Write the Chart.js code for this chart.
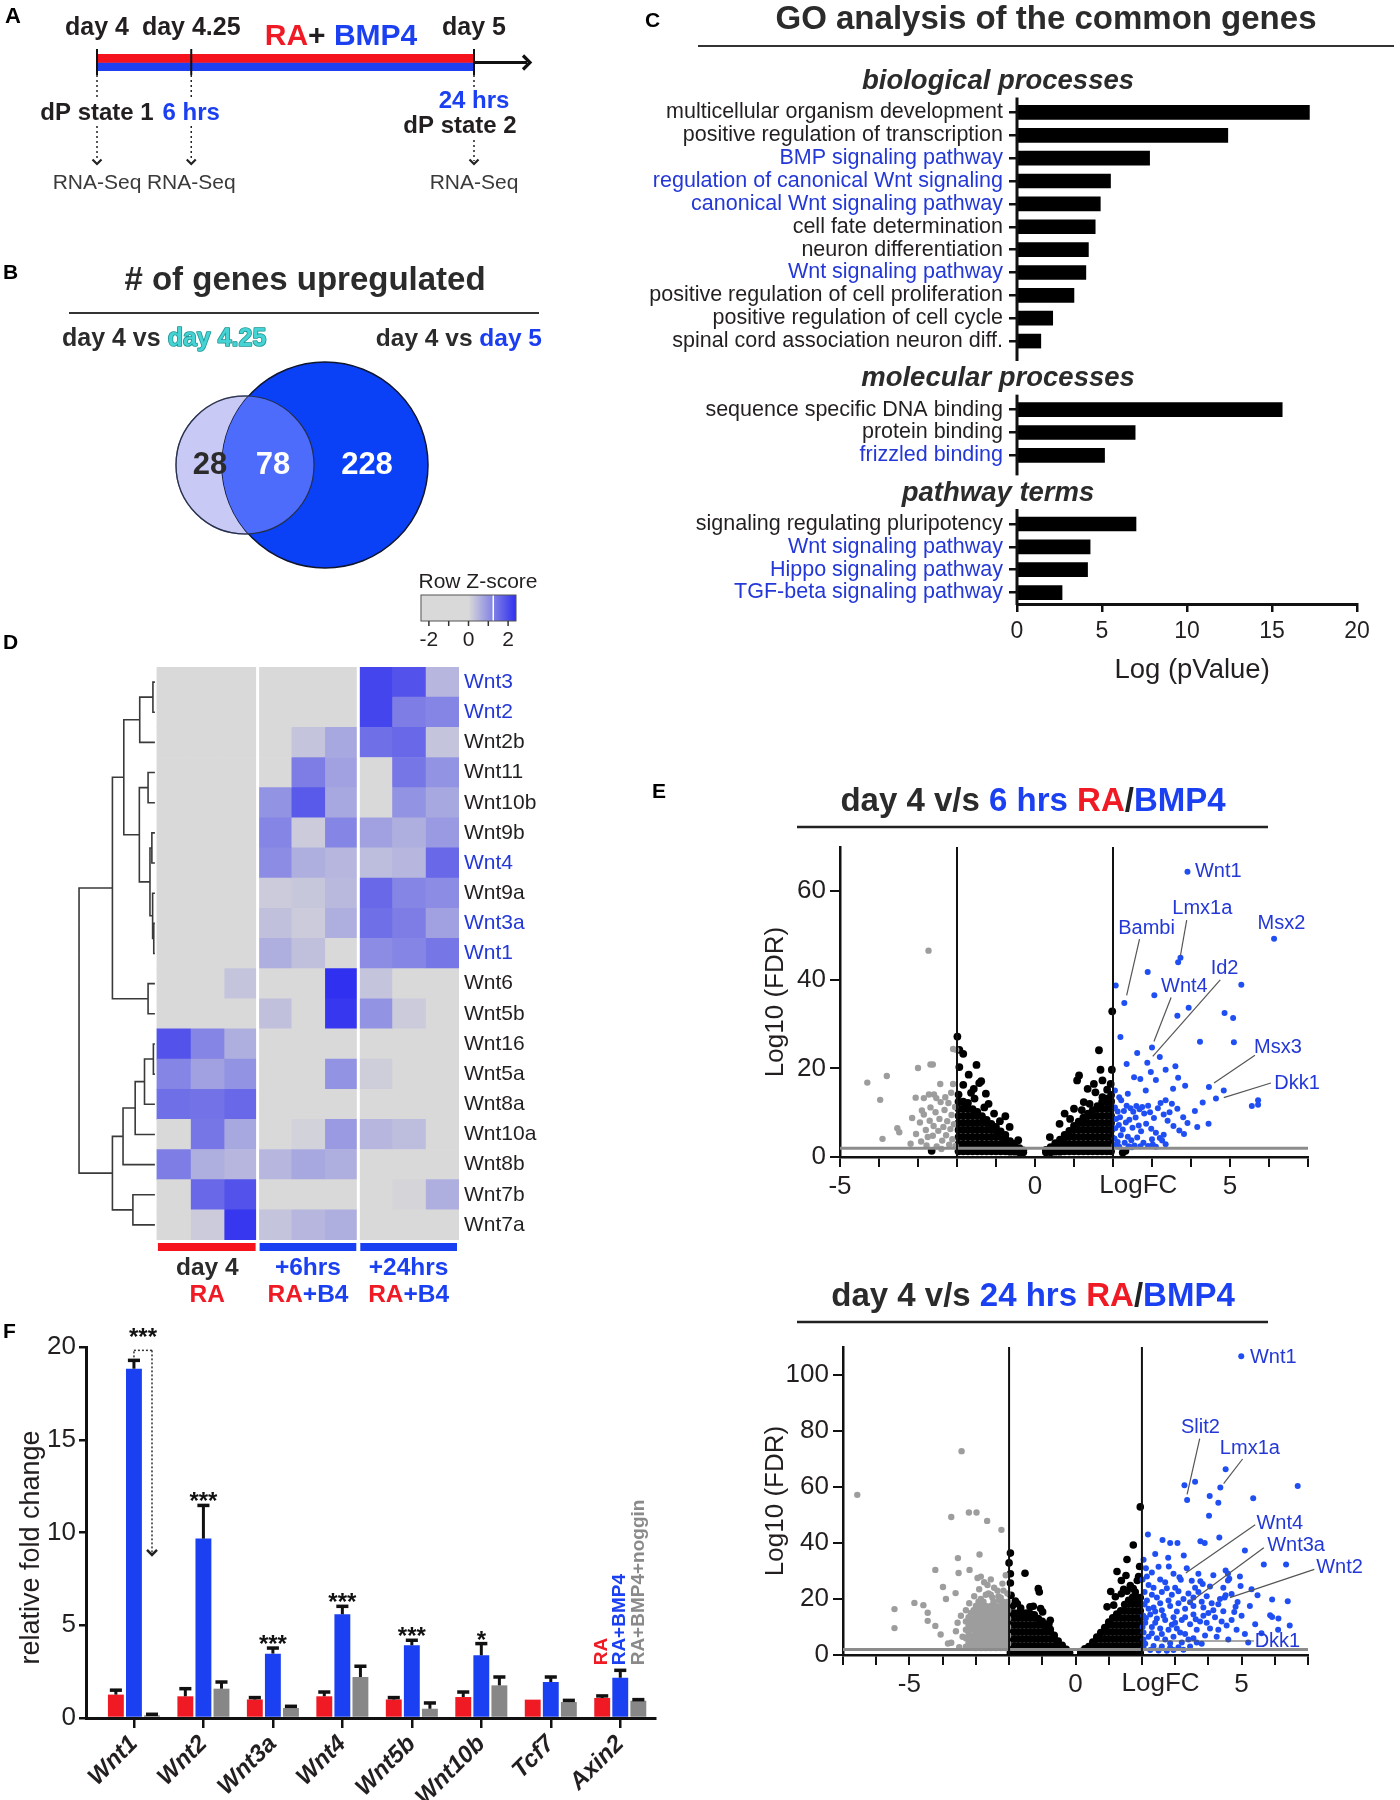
<!DOCTYPE html>
<html>
<head>
<meta charset="utf-8">
<title>Wnt / BMP4 figure</title>
<script src="https://cdn.jsdelivr.net/npm/chart.js@4.4.1/dist/chart.umd.min.js"></script>
<style>
  body { margin: 0; background: #fff; }
  #fig { position: relative; width: 1400px; height: 1800px; background: #fff; overflow: hidden; }
  #fig canvas { position: absolute; }
</style>
</head>
<body>
<div id="fig">
  <canvas id="cA" width="560" height="210" style="left:0px;top:0px"></canvas>
  <canvas id="cB" width="560" height="380" style="left:0px;top:215px"></canvas>
  <canvas id="cC" width="770" height="700" style="left:630px;top:0px"></canvas>
  <canvas id="cD" width="560" height="760" style="left:0px;top:560px"></canvas>
  <canvas id="cE1" width="760" height="490" style="left:640px;top:760px"></canvas>
  <canvas id="cE2" width="760" height="540" style="left:640px;top:1260px"></canvas>
  <canvas id="cF" width="680" height="510" style="left:0px;top:1290px"></canvas>
</div>
<script>
// === DATA: A timeline ===
const timeDays = [4, 4.25, 5];
const timeLabels = ['day 4', 'day 4.25', 'day 5'];
const sampleHours = ['', '6 hrs', '24 hrs'];
const sampleStates = ['dP state 1', '', 'dP state 2'];
const assayName = 'RNA-Seq';

// === DATA: B venn ===
const vennCounts = [28, 78, 228];
const vennLayout = [[0, 0, 0.69], [0.8, 0, 1.03]];   // centre x, centre y, radius (venn units)
const vennCountX = [-0.35, 0.28, 1.22];

// === DATA: C GO terms ===
const bioTerms = ['multicellular organism development', 'positive regulation of transcription', 'BMP signaling pathway',
  'regulation of canonical Wnt signaling', 'canonical Wnt signaling pathway', 'cell fate determination',
  'neuron differentiation', 'Wnt signaling pathway', 'positive regulation of cell proliferation',
  'positive regulation of cell cycle', 'spinal cord association neuron diff.'];
const bioLogP = [17.2, 12.4, 7.8, 5.5, 4.9, 4.6, 4.2, 4.05, 3.35, 2.1, 1.4];
const molTerms = ['sequence specific DNA binding', 'protein binding', 'frizzled binding'];
const molLogP = [15.6, 6.95, 5.15];
const pathTerms = ['signaling regulating pluripotency', 'Wnt signaling pathway', 'Hippo signaling pathway', 'TGF-beta signaling pathway'];
const pathLogP = [7.0, 4.3, 4.15, 2.65];
const signalingTerms = ['BMP signaling pathway', 'regulation of canonical Wnt signaling', 'canonical Wnt signaling pathway',
  'Wnt signaling pathway', 'frizzled binding', 'Hippo signaling pathway', 'TGF-beta signaling pathway'];

// === DATA: D heatmap ===
const heatGenes = ['Wnt3', 'Wnt2', 'Wnt2b', 'Wnt11', 'Wnt10b', 'Wnt9b', 'Wnt4', 'Wnt9a', 'Wnt3a', 'Wnt1',
  'Wnt6', 'Wnt5b', 'Wnt16', 'Wnt5a', 'Wnt8a', 'Wnt10a', 'Wnt8b', 'Wnt7b', 'Wnt7a'];
const keyGenes = ['Wnt3', 'Wnt2', 'Wnt4', 'Wnt3a', 'Wnt1'];
const heatGroups = ['day 4', '+6hrs', '+24hrs'];
const heatTreat = ['RA', 'RA+B4', 'RA+B4'];
const heatZ = [
  [-0.5, -0.5, -0.5, -0.5, -0.5, -0.5, 2.1, 1.9, 0.5],
  [-0.6, -0.6, -0.6, -0.6, -0.6, -0.6, 2.1, 1.3, 1.2],
  [-0.7, -0.7, -0.7, -0.6, 0.3, 0.7, 1.5, 1.6, 0.3],
  [-0.8, -0.8, -0.8, -0.6, 1.3, 0.8, -0.1, 1.4, 1.0],
  [-0.9, -0.9, -0.9, 1.0, 1.8, 0.7, -0.2, 1.0, 0.7],
  [-1.0, -1.0, -1.0, 1.2, 0.2, 1.2, 0.8, 0.6, 0.9],
  [-0.9, -0.9, -0.9, 1.1, 0.6, 0.5, 0.4, 0.5, 1.6],
  [-0.8, -0.8, -0.8, 0.2, 0.25, 0.45, 1.6, 1.2, 1.1],
  [-0.8, -0.8, -0.8, 0.35, 0.2, 0.6, 1.5, 1.3, 0.8],
  [-0.8, -0.8, -0.8, 0.6, 0.35, 0.0, 1.1, 1.2, 1.4],
  [-0.4, -0.4, 0.3, -0.4, -0.4, 2.6, 0.3, -0.3, -0.4],
  [-0.5, -0.5, -0.5, 0.35, -0.4, 2.3, 1.0, 0.2, -0.2],
  [1.9, 1.2, 0.6, -0.4, -0.4, -0.1, -0.2, -0.4, -0.4],
  [1.2, 0.8, 1.0, -0.5, -0.5, 1.0, 0.15, -0.5, -0.5],
  [1.5, 1.45, 1.6, -0.6, -0.6, -0.6, -0.6, -0.6, -0.6],
  [-0.3, 1.4, 0.7, -0.4, 0.1, 0.9, 0.5, 0.4, -0.4],
  [1.3, 0.6, 0.5, 0.5, 0.7, 0.6, -0.8, -0.8, -0.8],
  [-0.4, 1.6, 1.9, -0.5, -0.5, -0.5, -0.4, 0.05, 0.6],
  [-0.3, 0.2, 2.3, 0.3, 0.5, 0.6, -0.6, -0.6, -0.6]
];
// hclust style merges: negative = leaf (1-based row), positive = earlier merge; last = height
const dendroMerges = [
  [-1, -2, 0.26], [-9, -10, 0.15], [-13, -14, 0.2], [-8, 2, 0.3], [-6, -7, 0.4], [5, 4, 0.65],
  [-4, -5, 0.9], [-11, -12, 0.9], [3, -15, 1.37], [1, -3, 2.0], [7, 6, 2.05], [9, -16, 2.6],
  [-18, -19, 2.9], [10, 11, 4.1], [12, -17, 4.2], [14, 8, 5.6], [15, 13, 5.6], [16, 17, 10]
];

// === DATA: E volcano plots ===
const fcCut = 2, fdrCut = 2;
const grey6 = [[-2.73,46.6],[-4.3,16.8],[-3.8,18.3],[-3.97,12.9],[-3.91,4.1],[-3.53,6.5],[-3.48,5.6],[-3.15,8.8],
  [-3.19,3.0],[-3.06,13.4],[-3.0,20.1],[-2.68,20.9],[-2.62,20.9],[-2.85,13.3],[-2.72,14.1],[-2.59,14.1],[-2.53,13.3],
  [-2.43,16.5],[-2.1,24.4],[-2.02,24.2],[-2.1,16.5],[-3.05,5.2],[-2.95,7.8],[-2.92,3.5],[-2.85,9.6],[-2.8,6.1],
  [-2.78,2.6],[-2.7,8.2],[-2.68,11.2],[-2.62,4.8],[-2.6,7.0],[-2.55,10.1],[-2.52,2.4],[-2.48,5.9],[-2.45,8.6],
  [-2.42,12.4],[-2.38,3.7],[-2.35,6.8],[-2.32,10.6],[-2.28,4.9],[-2.25,8.1],[-2.22,12.2],[-2.2,2.8],[-2.17,6.3],
  [-2.14,9.5],[-2.12,4.0],[-2.08,7.4],[-2.05,11.3],[-2.04,2.5],[-2.3,13.5],[-2.4,1.8],[-2.9,10.5],[-2.75,4.5],[-2.15,14.5]];
const blackColsL6 = [
  [-1.96,1.3,2.9,4.5,6.1,7.7,9.3,10.9,12.5,14.1], [-1.84,1.3,2.9,4.5,6.1,7.7,9.3,10.9,12.5],
  [-1.72,1.3,2.9,4.5,6.1,7.7,9.3,10.9,12.2], [-1.6,1.3,2.9,4.5,6.1,7.7,9.3,10.8],
  [-1.48,1.3,2.9,4.5,6.1,7.7,9.3,10.2], [-1.36,1.3,2.9,4.5,6.1,7.7,9.2], [-1.24,1.3,2.9,4.5,6.1,7.7,8.4],
  [-1.12,1.3,2.9,4.5,6.1,7.5], [-1.0,1.3,2.9,4.5,6.0,6.8], [-0.88,1.3,2.9,4.5,5.8], [-0.76,1.3,2.8,4.2,5.0],
  [-0.64,1.2,2.6,3.6], [-0.52,1.2,2.4,3.0], [-0.4,1.1,2.0], [-0.3,1.1,1.5]];
const blackColsR6 = [
  [0.28,1.1,1.6], [0.4,1.1,2.2], [0.52,1.2,2.5,3.1], [0.64,1.2,2.7,3.9], [0.76,1.3,2.9,4.4,5.0],
  [0.88,1.3,2.9,4.5,5.9], [1.0,1.3,2.9,4.5,6.1,7.0], [1.12,1.3,2.9,4.5,6.1,7.7,8.0], [1.24,1.3,2.9,4.5,6.1,7.7,8.9],
  [1.36,1.3,2.9,4.5,6.1,7.7,9.3,9.8], [1.48,1.3,2.9,4.5,6.1,7.7,9.3,10.6], [1.6,1.3,2.9,4.5,6.1,7.7,9.3,10.9,11.5],
  [1.72,1.3,2.9,4.5,6.1,7.7,9.3,10.9,12.4], [1.84,1.3,2.9,4.5,6.1,7.7,9.3,10.9,12.5,13.2],
  [1.95,1.3,2.9,4.5,6.1,7.7,9.3,10.9,12.5,14.0]];
const blackOut6 = [[-1.99,27.2],[-1.94,24.2],[-1.84,23.3],[-1.94,20.3],[-1.5,20.8],[-1.43,16.7],[-1.38,17.1],[-1.57,15.4],
  [-1.64,14.5],[-1.26,14.3],[-1.84,16.3],[-1.19,12],[-0.76,9.2],[-0.65,6.8],[-0.43,3.8],[-2.65,1.4],[-1.3,11.2],[-1.7,18.6],
  [-1.05,9.8],[-0.9,8.1],[-1.55,13.2],[1.98,32.9],[1.64,24.1],[1.68,19.7],[1.97,19.7],[1.94,16.5],[1.51,16.5],[1.13,18.4],
  [1.08,17.3],[1.35,15.4],[1.73,17.3],[0.76,9.8],[1.0,10.9],[1.4,12.0],[1.94,12.8],[1.73,13.5],[0.63,7.5],[0.38,4.5],
  [2.32,1.4],[2.25,1.0],[1.25,12.4],[1.55,14.6],[0.9,8.6],[1.85,15.2],[1.2,10.6]];
const blue6 = [[3.91,64.4],[6.13,49.3],[3.73,45.0],[3.67,44.0],[2.89,41.8],[2.07,38.7],[5.29,38.9],[2.29,34.8],[3.06,36.5],
  [3.94,33.7],[3.65,31.9],[4.86,32.5],[5.08,31.4],[2.19,27.1],[4.23,26.0],[5.1,25.9],[3.0,24.7],[2.88,21.3],[2.97,19.2],
  [2.54,18.0],[3.1,17.4],[3.6,20.5],[3.67,17.9],[4.46,15.8],[4.84,15.0],[4.64,13.2],[4.3,12.3],[3.54,15.4],[2.84,15.0],
  [5.56,11.5],[5.72,12.8],[5.72,11.8],[3.91,7.7],[4.16,6.8],[4.45,7.5],[3.51,12.0],[3.65,10.9],[3.35,12.8],[3.22,12.2],
  [2.05,15.0],[2.16,13.5],[2.21,12.8],[2.38,14.3],[2.05,11.2],[2.12,10.3],[2.08,8.6],[2.18,9.0],[2.28,10.4],[2.35,11.6],
  [2.45,11.0],[2.52,10.2],[2.6,11.5],[2.68,10.8],[2.75,11.3],[2.8,9.8],[2.9,11.6],[2.95,10.1],[3.05,8.8],[3.15,11.0],
  [2.06,6.5],[2.15,7.2],[2.25,6.2],[2.33,7.8],[2.42,8.4],[2.5,6.6],[2.58,8.9],[2.66,7.1],[2.72,5.8],[2.85,7.5],[2.98,6.4],
  [3.1,5.5],[3.2,4.3],[3.3,5.0],[2.04,4.2],[2.12,3.4],[2.2,4.9],[2.3,3.2],[2.38,4.6],[2.47,3.8],[2.55,2.6],[2.62,4.4],
  [2.7,2.4],[2.78,3.2],[2.9,2.5],[3.02,2.8],[3.1,2.3],[2.03,2.6],[2.16,2.3],[2.4,2.4],[2.48,2.2],[3.26,3.7],[3.35,2.9],
  [3.0,4.0],[3.4,8.2],[3.55,7.0],[3.7,6.0],[3.82,5.2],[3.45,10.1],[3.8,9.0],[3.3,9.6],[4.1,10.4],[3.85,16.1],[3.35,19.7],
  [2.7,17.6],[2.35,21.0],[2.62,23.5],[3.2,22.6]];
const tags6 = [
  { t: 'Wnt1', x: 4.1, y: 64.4, left: true },
  { t: 'Lmx1a', x: 4.29, y: 56.2, line: [3.89, 53.5, 3.73, 45.5] },
  { t: 'Bambi', x: 2.86, y: 51.6, line: [2.68, 49.2, 2.35, 36.5] },
  { t: 'Msx2', x: 6.32, y: 52.8 },
  { t: 'Id2', x: 4.86, y: 42.5, line: [4.75, 40.0, 3.02, 22.7] },
  { t: 'Wnt4', x: 3.83, y: 38.5, line: [3.49, 36.0, 3.05, 26.1] },
  { t: 'Msx3', x: 6.23, y: 24.8, line: [5.64, 23.0, 4.59, 16.7] },
  { t: 'Dkk1', x: 6.72, y: 16.7, line: [6.05, 16.7, 4.84, 13.4] }];

const grey24 = [[-6.57,57.2],[-3.43,72.8],[-3.74,49.3],[-3.21,50.9],[-2.98,50.9],[-2.66,47.9],[-2.23,44.7],[-3.54,34.6],
  [-2.89,35.9],[-4.22,30.4],[-3.52,29.3],[-3.19,30.4],[-3.99,24.3],[-4.85,18.6],[-4.58,17.8],[-5.45,16.4],[-5.45,9.6],
  [-4.45,15.1],[-4.45,12.2],[-4.22,10.4],[-4.06,7.3],[-3.9,20.0],[-3.61,22.1],[-3.84,4.1],[-3.74,4.4],[-2.95,27.5],
  [-2.85,28.0],[-2.75,26.0],[-2.65,25.0],[-2.55,27.0],[-2.45,24.0],[-2.35,23.0],[-2.2,25.5],[-2.1,28.5],[-2.05,22.0],
  [-2.9,23.5],[-2.7,21.5],[-2.5,20.5],[-2.3,19.5],[-3.05,21.0],[-3.2,18.5],[-3.3,16.0],[-3.45,14.0],[-3.55,11.5],
  [-3.6,8.5],[-3.4,6.5],[-3.5,2.8]];
const greyCols24 = [
  [-3.3,3,6,9,12], [-3.22,4.5,7.5,10.5,13.5], [-3.15,3,6,9,12,15], [-3.07,4,7,10,13,16],
  [-3.0,2.5,5.5,8.5,11.5,14.5,17.5], [-2.92,4,7,10,13,16,19], [-2.85,2.5,5.5,8.5,11.5,14.5,17.5,20],
  [-2.77,4,7,10,13,16,19], [-2.7,2.5,5.5,8.5,11.5,14.5,17.5], [-2.62,4,7,10,13,16,22],
  [-2.55,2.5,5.5,8.5,11.5,14.5,17.5,21.5], [-2.47,4,7,10,13,16,19], [-2.4,2.5,5.5,8.5,11.5,14.5,17.5],
  [-2.32,4,7,10,13,16,21], [-2.25,2.5,5.5,8.5,11.5,14.5,17.5,20.5], [-2.17,4,7,10,13,16,19,23],
  [-2.1,2.5,5.5,8.5,11.5,14.5,17.5], [-2.03,4,7,10,13,16,19]];
const blackColsL24 = [
  [-1.96,0.8,3.3,5.8,8.3,10.8,13.3,15], [-1.84,0.8,3.3,5.8,8.3,10.8,13.3,15], [-1.72,0.8,3.3,5.8,8.3,10.8,13.3,15],
  [-1.6,0.8,3.3,5.8,8.3,10.8,13.3,15], [-1.48,0.8,3.3,5.8,8.3,10.8,13.3,15], [-1.36,0.8,3.3,5.8,8.3,10.8,13.3,14.8],
  [-1.24,0.8,3.3,5.8,8.3,10.8,13.3,14.4], [-1.12,0.8,3.3,5.8,8.3,10.8,13.0], [-1.0,0.8,3.3,5.8,8.3,10.8,12.0],
  [-0.88,0.8,3.3,5.8,8.3,10.4], [-0.76,0.8,3.3,5.8,8.3,9.2], [-0.64,0.8,3.3,5.8,7.0], [-0.52,0.7,3.0,5.0],
  [-0.4,0.6,2.5,3.5], [-0.28,0.5,2.0], [-0.18,0.4,1.0]];
const blackColsR24 = [
  [0.16,0.5,1.2], [0.28,0.6,2.2], [0.4,0.7,3.0], [0.52,0.8,3.3,4.6], [0.64,0.8,3.3,5.8,6.4], [0.76,0.8,3.3,5.8,8.0],
  [0.88,0.8,3.3,5.8,8.3,9.8], [1.0,0.8,3.3,5.8,8.3,10.8,11.8], [1.12,0.8,3.3,5.8,8.3,10.8,13.3],
  [1.24,0.8,3.3,5.8,8.3,10.8,13.3,14.6], [1.36,0.8,3.3,5.8,8.3,10.8,13.3,15.8],
  [1.48,0.8,3.3,5.8,8.3,10.8,13.3,15.8,18], [1.6,0.8,3.3,5.8,8.3,10.8,13.3,15.8,18.3,19.5],
  [1.72,0.8,3.3,5.8,8.3,10.8,13.3,15.8,18.3,20.6], [1.84,0.8,3.3,5.8,8.3,10.8,13.3,15.8,18.3,20.5],
  [1.95,0.8,3.3,5.8,8.3,10.8,13.3,15.8,18.3,20.5]];
const blackOut24 = [[-1.96,36.4],[-2.0,32.9],[-1.96,29.0],[-1.96,25.7],[-1.52,29.2],[-1.12,23.7],[-1.09,22.5],[-1.94,21.3],
  [-1.81,19.3],[-1.75,18.3],[-1.37,17.2],[-1.27,17.4],[-1.05,16.6],[-0.99,15.4],[-0.76,12.4],[-0.8,11.2],[-1.9,17.5],
  [-1.65,16.8],[1.95,52.9],[1.74,39.3],[1.55,34.1],[1.93,31.6],[1.25,29.8],[1.52,28.4],[1.38,26.6],[1.86,26.6],[1.74,23.7],
  [1.06,22.7],[1.38,21.9],[1.55,22.8],[1.8,22.5],[1.65,24.8],[1.2,20.8],[1.45,23.5],[0.95,17.2],[1.15,17.8],[1.9,28.0]];
const blue24 = [[4.99,106.7],[6.69,60.4],[4.52,66.3],[4.36,59.8],[3.28,60.6],[3.6,61.9],[3.36,55.4],[4.04,56.8],[4.3,54.4],
  [5.35,56.0],[4.02,49.7],[4.33,42.0],[2.18,43.0],[2.62,41.1],[2.85,40.0],[3.07,40.0],[3.76,40.6],[3.89,40.0],[2.4,36.1],
  [2.79,34.7],[3.26,35.5],[2.05,34.0],[2.12,31.0],[2.15,28.0],[5.1,37.3],[5.67,32.3],[6.34,32.3],[4.52,30.2],[4.59,29.0],
  [4.63,27.2],[2.81,31.6],[3.13,27.8],[3.17,26.9],[3.76,26.3],[3.83,25.4],[4.97,24.6],[4.59,26.6],[5.48,21.3],[5.92,19.8],
  [6.39,19.2],[4.52,21.3],[4.49,20.5],[4.88,18.9],[4.82,17.2],[4.78,15.4],[4.3,18.1],[5.86,14.2],[5.92,13.6],[6.11,13.0],
  [5.41,11.0],[5.1,7.5],[2.3,29.5],[2.55,27.0],[2.7,26.0],[2.35,24.0],[2.6,22.5],[2.45,20.5],[2.9,21.5],[3.0,24.0],
  [3.4,22.0],[3.55,20.5],[3.7,22.5],[3.95,21.0],[4.1,18.5],[3.85,17.0],[4.0,15.0],[4.2,13.5],[4.4,12.0],[4.55,10.5],
  [4.05,9.5],[3.75,12.0],[3.55,14.5],[3.3,16.5],[3.1,18.5],[2.85,17.5],[2.6,16.0],[2.35,17.0],[2.15,19.5],[2.08,22.5],
  [2.25,14.5],[2.45,13.0],[2.7,12.5],[2.95,13.5],[3.2,12.5],[3.45,11.0],[3.65,9.0],[3.9,7.0],[4.25,6.5],[4.6,5.5],
  [2.1,11.5],[2.3,10.0],[2.55,9.5],[2.8,9.0],[3.05,9.5],[3.3,7.5],[3.55,6.0],[3.8,4.0],[2.05,8.0],[2.2,6.5],[2.45,6.0],
  [2.7,5.5],[2.95,6.5],[3.2,4.5],[3.45,3.0],[2.1,4.0],[2.35,3.2],[2.6,3.0],[2.85,2.6],[3.1,2.8],[2.05,2.4],[2.25,1.8],
  [2.5,1.6],[2.75,1.5],[2.2,25.0],[2.5,31.5],[2.95,29.0],[3.5,26.5],[3.35,31.0],[4.15,28.5],[4.45,24.0],[4.05,24.5],
  [3.7,29.0],[5.25,17.5],[5.0,14.0],[4.7,12.5],[5.3,23.5],[4.85,9.0],[3.95,11.5],[4.3,9.0],[2.3,21.5],[2.55,18.5],
  [2.8,19.5],[3.05,15.5],[3.3,13.5],[3.55,17.5],[3.8,19.0],[2.2,16.5],[2.4,11.5],[2.65,14.0],[2.9,10.8],[3.15,8.0],
  [3.4,5.5],[3.65,4.5],[2.3,7.8],[2.6,7.5],[2.85,4.2],[3.0,11.5],[3.25,20.0],[3.45,18.8],[3.62,12.8],[2.12,13.2],
  [2.4,15.5],[2.75,23.8],[3.1,22.8],[3.6,24.0],[3.85,14.0],[4.15,16.0],[4.35,20.0],[5.2,4.5],[4.95,28.0],[6.45,10.5],
  [6.1,9.0],[5.6,7.8],[4.45,15.6],[4.7,21.8],[2.02,27.0],[2.08,18.0],[2.04,14.0],[2.02,10.0],[2.05,5.5],[2.95,1.8],[3.25,1.9]];
const tags24 = [
  { t: 'Wnt1', x: 5.25, y: 106.3, left: true },
  { t: 'Slit2', x: 3.76, y: 81.3, line: [3.74, 77.3, 3.36, 57.4] },
  { t: 'Lmx1a', x: 5.25, y: 73.6, line: [5.03, 70.0, 4.46, 61.2] },
  { t: 'Wnt4', x: 6.15, y: 47.1, line: [5.41, 46.5, 3.32, 29.3] },
  { t: 'Wnt3a', x: 6.64, y: 39.1, line: [5.67, 38.3, 3.38, 18.3] },
  { t: 'Wnt2', x: 7.95, y: 31.4, line: [7.19, 30.6, 4.65, 20.5] },
  { t: 'Dkk1', x: 6.08, y: 5.0, line: [5.37, 5.0, 2.5, 5.0] }];

// === DATA: F qPCR ===
const qpcrGenes = ['Wnt1', 'Wnt2', 'Wnt3a', 'Wnt4', 'Wnt5b', 'Wnt10b', 'Tcf7', 'Axin2'];
const foldRA = [1.26, 1.17, 1.0, 1.17, 1.0, 1.13, 0.99, 1.08];
const errRA = [0.24, 0.41, 0.1, 0.23, 0.1, 0.27, 0, 0.11];
const foldRABMP4 = [18.83, 9.67, 3.47, 5.59, 3.92, 3.38, 1.94, 2.17];
const errRABMP4 = [0.45, 1.79, 0.3, 0.43, 0.27, 0.63, 0.27, 0.4];
const foldNoggin = [0.14, 1.58, 0.54, 2.21, 0.5, 1.76, 0.86, 0.93];
const errNoggin = [0.06, 0.36, 0.09, 0.58, 0.31, 0.45, 0.09, 0.06];
const signif = ['***', '***', '***', '***', '***', '*', '', ''];
const nogginDropTo = 8.9;

// === STYLE ===
const FONT = "'Liberation Sans', Arial, Helvetica, sans-serif";
const INK = '#231f20', BLUE_TXT = '#2338d6', RED = '#ef1a24', BLUE = '#1b40f2', GREY_BAR = '#878787';
const f = (size, weight = 'normal', style = 'normal') => `${style} ${weight} ${size}px ${FONT}`;
Chart.defaults.font.family = FONT;
Chart.defaults.color = INK;
Chart.defaults.animation = false;
Chart.defaults.plugins.legend.display = false;
Chart.defaults.plugins.tooltip.enabled = false;

// === HELPERS ===
function txt(c, s, x, y, font, color, align, base, rot) {
  c.save(); c.font = font; c.fillStyle = color || INK;
  c.textAlign = align || 'center'; c.textBaseline = base || 'middle';
  c.translate(x, y); if (rot) c.rotate(rot); c.fillText(s, 0, 0); c.restore();
}
function runs(c, parts, x, y, font, align) {
  c.save(); c.font = font; c.textBaseline = 'middle'; c.textAlign = 'left';
  let w = 0; parts.forEach(p => { w += c.measureText(p[0]).width; });
  let cx = align === 'right' ? x - w : align === 'left' ? x : x - w / 2;
  parts.forEach(p => {
    if (p[2]) { c.strokeStyle = p[2]; c.lineWidth = 1.6; c.lineJoin = 'round'; c.strokeText(p[0], cx, y); }
    c.fillStyle = p[1]; c.fillText(p[0], cx, y); cx += c.measureText(p[0]).width;
  });
  c.restore();
}
function seg(c, x1, y1, x2, y2, color, w, dash) {
  c.save(); c.strokeStyle = color; c.lineWidth = w; if (dash) c.setLineDash(dash);
  c.beginPath(); c.moveTo(x1, y1); c.lineTo(x2, y2); c.stroke(); c.restore();
}
function chevron(c, x, y, dir, s, color, w) {
  c.save(); c.strokeStyle = color; c.lineWidth = w; c.beginPath();
  if (dir === 'down') { c.moveTo(x - s, y - s); c.lineTo(x, y); c.lineTo(x + s, y - s); }
  else { c.moveTo(x - s, y - s); c.lineTo(x, y); c.lineTo(x - s, y + s); }
  c.stroke(); c.restore();
}
function pts(arr) { return arr.map(p => ({ x: p[0], y: p[1] })); }
function cols(rows) { const out = []; rows.forEach(r => r.slice(1).forEach(y => out.push({ x: r[0], y }))); return out; }
function zColor(z) {
  const t = Math.max(0, Math.min(1, z / 2.4)), g = [217, 217, 217], b = [48, 48, 240];
  return 'rgb(' + g.map((v, i) => Math.round(v + (b[i] - v) * t)).join(',') + ')';
}

// === A. TIMELINE ===
new Chart(document.getElementById('cA'), {
  type: 'bar',
  data: { labels: ['RA+BMP4'], datasets: [
    { data: [[timeDays[0], timeDays[2]]], backgroundColor: '#f5141e' },
    { data: [[timeDays[0], timeDays[2]]], backgroundColor: '#1e40f0' }] },
  options: {
    responsive: false, indexAxis: 'y',
    layout: { padding: { left: 97, right: 86, top: 54, bottom: 139 } },
    datasets: { bar: { barPercentage: 1, categoryPercentage: 1 } },
    scales: { x: { type: 'linear', min: timeDays[0], max: timeDays[2], display: false }, y: { display: false } }
  },
  plugins: [{ id: 'timeline', afterDraw(ch) {
    const c = ch.ctx, xs = ch.scales.x, a = ch.chartArea, mid = (a.top + a.bottom) / 2;
    txt(c, 'A', 5, 17, f(22, 'bold'), '#000', 'left');
    const xe = xs.getPixelForValue(timeDays[2]);
    seg(c, xe, mid, xe + 53, mid, '#111', 3);
    chevron(c, xe + 56, mid, 'right', 7, '#111', 3.2);
    runs(c, [['RA', RED], ['+ ', INK], ['BMP4', BLUE]], 341, 37, f(30, 'bold'));
    timeDays.forEach((d, i) => {
      const x = xs.getPixelForValue(d);
      txt(c, timeLabels[i], x, 28, f(25, 'bold'), INK);
      seg(c, x, 49, x, a.bottom + 4, '#111', 2);
      const dots = [2, 3];
      if (i < 2) {
        seg(c, x, a.bottom + 4, x, 98, '#222', 1.5, dots);
        txt(c, sampleStates[i] || sampleHours[i], x, 113, f(24, 'bold'), sampleStates[i] ? INK : BLUE);
        seg(c, x, 126, x, 161, '#222', 1.5, dots);
      } else {
        seg(c, x, a.bottom + 4, x, 88, '#222', 1.5, dots);
        txt(c, sampleHours[i], x, 101, f(24, 'bold'), BLUE);
        txt(c, sampleStates[i], x - 14, 126, f(24, 'bold'), INK);
        seg(c, x, 140, x, 161, '#222', 1.5, dots);
      }
      chevron(c, x, 164, 'down', 4.5, '#222', 2.2);
      txt(c, assayName, x, 183, f(21), '#3a3a3a');
    });
  } }]
});

// === B. VENN ===
new Chart(document.getElementById('cB'), {
  type: 'scatter',
  data: { datasets: [{ data: vennLayout.map(v => ({ x: v[0], y: v[1] })), pointRadius: 0 }] },
  options: {
    responsive: false, layout: { padding: { bottom: 35 } },
    scales: { x: { min: -2.45, max: 3.15, display: false }, y: { min: -0.95, max: 2.5, display: false } }
  },
  plugins: [{ id: 'venn', afterDraw(ch) {
    const c = ch.ctx, xs = ch.scales.x, ys = ch.scales.y;
    txt(c, 'B', 3, 58, f(21, 'bold'), '#000', 'left');
    txt(c, '# of genes upregulated', 305, 66, f(33, 'bold'), '#2b2b2b');
    seg(c, 69, 98, 539, 98, '#333', 2);
    runs(c, [['day 4 vs ', '#2b2b2b'], ['day 4.25', '#46d3d3', '#1c9494']], 62, 124, f(25, 'bold'), 'left');
    runs(c, [['day 4 vs ', '#2b2b2b'], ['day 5', '#1a3df2']], 542, 124, f(24.5, 'bold'), 'right');
    const cc = vennLayout.map(v => ({ x: xs.getPixelForValue(v[0]), y: ys.getPixelForValue(v[1]),
      r: xs.getPixelForValue(v[0] + v[2]) - xs.getPixelForValue(v[0]) }));
    const circle = k => { c.beginPath(); c.arc(cc[k].x, cc[k].y, cc[k].r, 0, Math.PI * 2); };
    c.save();
    circle(0); c.fillStyle = '#c8c9f5'; c.fill(); c.strokeStyle = '#77778a'; c.lineWidth = 1.3; c.stroke();
    circle(1); c.fillStyle = '#0a40f6'; c.fill(); c.strokeStyle = '#10162e'; c.lineWidth = 1.5; c.stroke();
    c.save(); circle(0); c.clip(); circle(1); c.fillStyle = '#4e6cfb'; c.fill(); c.restore();
    circle(0); c.strokeStyle = '#25304f'; c.lineWidth = 1.2; c.stroke();
    c.restore();
    const cy = ys.getPixelForValue(0);
    vennCounts.forEach((n, i) => txt(c, String(n), xs.getPixelForValue(vennCountX[i]), cy, f(31, 'bold'), i ? '#fff' : '#2b2b2b'));
  } }]
});

// === C. GO ANALYSIS ===
const goLabels = [...bioTerms, '', ' ', ...molTerms, '  ', '   ', ...pathTerms];
const goValues = [...bioLogP, null, null, ...molLogP, null, null, ...pathLogP];
new Chart(document.getElementById('cC'), {
  type: 'bar',
  data: { labels: goLabels, datasets: [{ data: goValues, backgroundColor: '#000', barThickness: 14 }] },
  options: {
    responsive: false, indexAxis: 'y',
    layout: { padding: { top: 101, right: 43 } },
    scales: {
      x: { type: 'linear', min: 0, max: 20,
        ticks: { stepSize: 5, font: { size: 23 }, color: INK, padding: 6 },
        grid: { drawOnChartArea: false, tickLength: 8, color: '#111', lineWidth: 2.5 },
        border: { color: '#111', width: 3 },
        afterFit: s => { s.height = 96; } },
      y: { ticks: { autoSkip: false, font: { size: 21.5 }, padding: 6,
          color: ctx => signalingTerms.includes(goLabels[ctx.index]) ? BLUE_TXT : INK },
        grid: { offset: false, drawOnChartArea: false, tickLength: 8, lineWidth: 2.5,
          color: ctx => (goLabels[ctx.index] || '').trim() ? '#111' : 'rgba(0,0,0,0)' },
        border: { display: false },
        afterFit: s => { s.width = 387; } }
    }
  },
  plugins: [{ id: 'goDecor', afterDraw(ch) {
    const c = ch.ctx, ys = ch.scales.y, xs = ch.scales.x, a = ch.chartArea;
    txt(c, 'C', 15, 21, f(21, 'bold'), '#000', 'left');
    txt(c, 'GO analysis of the common genes', 416, 20, f(33, 'bold'), '#2b2b2b');
    seg(c, 68, 46, 764, 46, '#333', 2);
    const m0 = bioTerms.length + 2, p0 = m0 + molTerms.length + 2;
    const sections = [['biological processes', 0, bioTerms.length - 1], ['molecular processes', m0, m0 + molTerms.length - 1],
      ['pathway terms', p0, p0 + pathTerms.length - 1]];
    sections.forEach(([name, i0, i1], k) => {
      const y0 = ys.getPixelForValue(i0), y1 = ys.getPixelForValue(i1);
      txt(c, name, 368, y0 - 31, f(27.5, 'bold', 'italic'), '#2b2b2b');
      seg(c, a.left, y0 - 15, a.left, k === 2 ? a.bottom + 1 : y1 + 20, '#111', 3);
    });
    txt(c, 'Log (pValue)', xs.getPixelForValue(10.3), 670, f(27.5), INK);
  } }]
});

// === D. HEATMAP ===
function drawDendro(c, xs, ys) {
  const leafX = xs.getPixelForValue(-0.06), nodes = [];
  const hx = h => xs.getPixelForValue(-0.06 - h * 0.226);
  const get = k => k < 0 ? { x: leafX, y: ys.getPixelForValue(-k - 1) } : nodes[k - 1];
  c.save(); c.strokeStyle = '#3a3a3a'; c.lineWidth = 1.6; c.beginPath();
  dendroMerges.forEach(([p, q, h]) => {
    const A = get(p), B = get(q), x = hx(h);
    c.moveTo(A.x, A.y); c.lineTo(x, A.y); c.lineTo(x, B.y); c.lineTo(B.x, B.y);
    nodes.push({ x, y: (A.y + B.y) / 2 });
  });
  c.stroke(); c.restore();
}
new Chart(document.getElementById('cD'), {
  type: 'bar',
  data: { labels: heatGenes, datasets: Array.from({ length: 9 }, (_, j) => ({
    data: heatGenes.map(() => 1), backgroundColor: heatZ.map(r => zColor(r[j])), borderWidth: 0 })) },
  options: {
    responsive: false, indexAxis: 'y',
    layout: { padding: { left: 73, top: 107, bottom: 80 } },
    datasets: { bar: { barPercentage: 1, categoryPercentage: 1 } },
    scales: {
      x: { type: 'linear', stacked: true, min: -2.5, max: 9, display: false },
      y: { stacked: true, position: 'right',
        ticks: { autoSkip: false, font: { size: 21 }, padding: 5,
          color: ctx => keyGenes.includes(heatGenes[ctx.index]) ? BLUE_TXT : INK },
        grid: { display: false, drawTicks: false }, border: { display: false },
        afterFit: s => { s.width = 101; } }
    }
  },
  plugins: [{ id: 'heatDecor', afterDraw(ch) {
    const c = ch.ctx, xs = ch.scales.x, ys = ch.scales.y, a = ch.chartArea;
    txt(c, 'D', 3, 83, f(21, 'bold'), '#000', 'left');
    [3, 6].forEach(v => seg(c, xs.getPixelForValue(v), a.top, xs.getPixelForValue(v), a.bottom, '#fff', 3));
    drawDendro(c, xs, ys);
    heatGroups.forEach((g, k) => {
      const x0 = xs.getPixelForValue(3 * k) + (k ? 2 : 1), x1 = xs.getPixelForValue(3 * k + 3) - 2;
      c.fillStyle = k ? '#1a3ff0' : '#f5141e'; c.fillRect(x0, a.bottom + 3, x1 - x0, 8);
      const xm = xs.getPixelForValue(3 * k + 1.5);
      txt(c, g, xm, a.bottom + 28, f(24.5, 'bold'), k ? BLUE : '#2b2b2b');
      const parts = heatTreat[k].split(/(?=\+)/).map((p, i) => [p, i ? BLUE : RED]);
      runs(c, parts, xm, a.bottom + 55, f(24.5, 'bold'), 'center');
    });
    // colour key
    const kx = z => 468.5 + z * 19.8;
    const grd = c.createLinearGradient(kx(-2.4), 0, kx(2.4), 0);
    grd.addColorStop(0, zColor(-2.4)); grd.addColorStop(0.5, zColor(0)); grd.addColorStop(1, zColor(2.4));
    c.fillStyle = grd; c.fillRect(kx(-2.4), 35, kx(2.4) - kx(-2.4), 26);
    seg(c, kx(1.25), 35, kx(1.25), 61, '#fff', 1.5);
    c.strokeStyle = '#555'; c.lineWidth = 1; c.strokeRect(kx(-2.4), 35, kx(2.4) - kx(-2.4), 26);
    [-2, -1, 0, 1, 2].forEach(z => seg(c, kx(z), 61, kx(z), 66, '#333', 1.5));
    [-2, 0, 2].forEach(z => txt(c, String(z), kx(z), 80, f(21), INK));
    txt(c, 'Row Z-score', 478, 22, f(21), INK);
  } }]
});

// === E. VOLCANO PLOTS ===
function volcano(id, o) {
  new Chart(document.getElementById(id), {
    type: 'scatter',
    data: { datasets: [
      { data: pts(o.blue), backgroundColor: '#1f4ff2', pointRadius: 3, pointBorderWidth: 0 },
      { data: pts(o.grey), backgroundColor: '#9d9d9d', pointRadius: 3.2, pointBorderWidth: 0 },
      { data: o.black, backgroundColor: '#000', pointRadius: o.blackR, pointBorderWidth: 0 }] },
    options: {
      responsive: false,
      layout: { padding: { top: 87, right: 92 } },
      scales: {
        x: { type: 'linear', min: o.xMin, max: o.xMax,
          afterBuildTicks: s => { const t = []; for (let v = o.xMin; v <= o.xMax; v++) t.push({ value: v }); s.ticks = t; },
          ticks: { autoSkip: false, maxRotation: 0, font: { size: 26 }, color: INK, padding: 4,
            callback: v => (v % 5 === 0 ? String(v) : '') },
          grid: { drawOnChartArea: false, tickLength: 10, color: '#111', lineWidth: 2 },
          border: { color: '#111', width: 2.5 },
          afterFit: s => { s.height = o.xH; } },
        y: { type: 'linear', min: 0, max: o.yMax,
          afterBuildTicks: s => { const t = []; for (let v = 0; v <= o.yMax; v += 20) t.push({ value: v }); s.ticks = t; },
          ticks: { autoSkip: false, font: { size: 26 }, color: INK, padding: 4 },
          grid: { drawOnChartArea: false, tickLength: 10, color: '#111', lineWidth: 2 },
          border: { color: '#111', width: 2.5 },
          afterFit: s => { s.width = o.yW; } }
      }
    },
    plugins: [{ id: 'volcDecor', afterDatasetsDraw(ch) {
      const c = ch.ctx, xs = ch.scales.x, ys = ch.scales.y, a = ch.chartArea;
      const yc = ys.getPixelForValue(fdrCut);
      seg(c, a.left, yc, a.right, yc, '#8c8c8c', 3);
      [-fcCut, fcCut].forEach(v => seg(c, xs.getPixelForValue(v), a.top, xs.getPixelForValue(v), a.bottom, '#111', 2));
      o.tags.forEach(t => {
        if (t.line) seg(c, xs.getPixelForValue(t.line[0]), ys.getPixelForValue(t.line[1]),
          xs.getPixelForValue(t.line[2]), ys.getPixelForValue(t.line[3]), '#555', 1.2);
        txt(c, t.t, xs.getPixelForValue(t.x), ys.getPixelForValue(t.y), f(20), BLUE_TXT, t.left ? 'left' : 'center');
      });
    }, afterDraw(ch) {
      const c = ch.ctx, xs = ch.scales.x, a = ch.chartArea;
      if (o.letter) txt(c, o.letter, 12, 32, f(21, 'bold'), '#000', 'left');
      runs(c, [['day 4 v/s ', '#2b2b2b'], [o.hours + ' ', BLUE], ['RA', RED], ['/', '#222'], ['BMP4', BLUE]],
        393, o.titleY, f(33, 'bold'), 'center');
      seg(c, 157, o.titleY + 25, 628, o.titleY + 25, '#222', 2.5);
      txt(c, 'Log10 (FDR)', 136, (a.top + a.bottom) / 2, f(26), INK, 'center', 'middle', -Math.PI / 2);
      txt(c, 'LogFC', xs.getPixelForValue(o.fcLabelAt), a.bottom + 29, f(26), INK);
    } }]
  });
}
volcano('cE1', { grey: grey6, black: [...cols(blackColsL6), ...cols(blackColsR6), ...pts(blackOut6)], blue: blue6, blackR: 3.9,
  tags: tags6, xMin: -5, xMax: 7, yMax: 70, xH: 93, yW: 200, hours: '6 hrs', titleY: 42, fcLabelAt: 2.65, letter: 'E' });
volcano('cE2', { grey: [...grey24, ...cols(greyCols24).map(p => [p.x, p.y])],
  black: [...cols(blackColsL24), ...cols(blackColsR24), ...pts(blackOut24)], blue: blue24, blackR: 3.8,
  tags: tags24, xMin: -7, xMax: 7, yMax: 110, xH: 145, yW: 203, hours: '24 hrs', titleY: 37, fcLabelAt: 2.56 });

// === F. qPCR BARS ===
const qpcrErr = [errRA, errRABMP4, errNoggin];
new Chart(document.getElementById('cF'), {
  type: 'bar',
  data: { datasets: [
    { label: 'RA', data: foldRA.map((v, i) => ({ x: i, y: v })), backgroundColor: RED },
    { label: 'RA+BMP4', data: foldRABMP4.map((v, i) => ({ x: i, y: v })), backgroundColor: BLUE },
    { label: 'RA+BMP4+noggin', data: foldNoggin.map((v, i) => ({ x: i, y: v })), backgroundColor: GREY_BAR }] },
  options: {
    responsive: false,
    layout: { padding: { top: 57, right: 25 } },
    datasets: { bar: { categoryPercentage: 0.78, barPercentage: 0.88 } },
    scales: {
      x: { type: 'linear', min: -0.69, max: 7.5, offset: false,
        afterBuildTicks: s => { s.ticks = qpcrGenes.map((g, i) => ({ value: i })); },
        ticks: { autoSkip: false, callback: v => qpcrGenes[v], minRotation: 45, maxRotation: 45,
          font: { size: 24, weight: 'bold', style: 'italic' }, color: INK, padding: 2 },
        grid: { offset: false, drawOnChartArea: false, tickLength: 10, color: '#111', lineWidth: 2.5 },
        border: { color: '#111', width: 3 },
        afterFit: s => { s.height = 82; } },
      y: { min: 0, max: 20,
        ticks: { stepSize: 5, font: { size: 26 }, color: INK, padding: 3 },
        grid: { drawOnChartArea: false, tickLength: 7, color: '#111', lineWidth: 2.5 },
        border: { color: '#111', width: 3 },
        afterFit: s => { s.width = 86; } }
    }
  },
  plugins: [{ id: 'qpcrDecor', afterDatasetsDraw(ch) {
    const c = ch.ctx, ys = ch.scales.y;
    qpcrErr.forEach((errs, d) => {
      const vals = ch.data.datasets[d].data;
      ch.getDatasetMeta(d).data.forEach((bar, i) => {
        if (!errs[i]) return;
        const yt = ys.getPixelForValue(vals[i].y + errs[i]);
        seg(c, bar.x, bar.y, bar.x, yt, '#111', 3);
        seg(c, bar.x - bar.width * 0.38, yt, bar.x + bar.width * 0.38, yt, '#111', 3.5);
      });
    });
  }, afterDraw(ch) {
    const c = ch.ctx, ys = ch.scales.y, a = ch.chartArea;
    txt(c, 'F', 3, 42, f(21, 'bold'), '#000', 'left');
    txt(c, 'relative fold change', 32, (a.top + a.bottom) / 2 + 15, f(27), INK, 'center', 'middle', -Math.PI / 2);
    const blue = ch.getDatasetMeta(1).data, grey = ch.getDatasetMeta(2).data;
    signif.forEach((s, i) => {
      if (!s || i === 0) return;
      txt(c, s, blue[i].x, ys.getPixelForValue(foldRABMP4[i] + errRABMP4[i]) + 4, f(24, 'bold'), '#111', 'center', 'alphabetic');
    });
    // Wnt1: bracket from RA+BMP4 down to RA+BMP4+noggin
    const yTop = ys.getPixelForValue(foldRABMP4[0] + errRABMP4[0]), yb = yTop - 10;
    const dash = [2, 2];
    seg(c, blue[0].x, yTop - 3, blue[0].x, yb, '#333', 1.5, dash);
    seg(c, blue[0].x, yb, grey[0].x, yb, '#333', 1.5, dash);
    seg(c, grey[0].x, yb, grey[0].x, ys.getPixelForValue(nogginDropTo), '#333', 1.5, dash);
    chevron(c, grey[0].x, ys.getPixelForValue(nogginDropTo) + 2, 'down', 5, '#222', 2.5);
    txt(c, signif[0], (blue[0].x + grey[0].x) / 2, yb - 5, f(24, 'bold'), '#111', 'center', 'alphabetic');
    // legend written above the last group
    const last = qpcrGenes.length - 1;
    let topErr = 0;
    ch.data.datasets.forEach((ds, d) => { topErr = Math.max(topErr, ds.data[last].y + qpcrErr[d][last]); });
    const y0 = ys.getPixelForValue(topErr) - 5;
    ch.data.datasets.forEach((ds, d) => {
      const bar = ch.getDatasetMeta(d).data[last];
      txt(c, ds.label, bar.x, y0, f(19, 'bold'), [RED, BLUE, '#8a8a8a'][d], 'left', 'middle', -Math.PI / 2);
    });
  } }]
});
</script>
</body>
</html>
